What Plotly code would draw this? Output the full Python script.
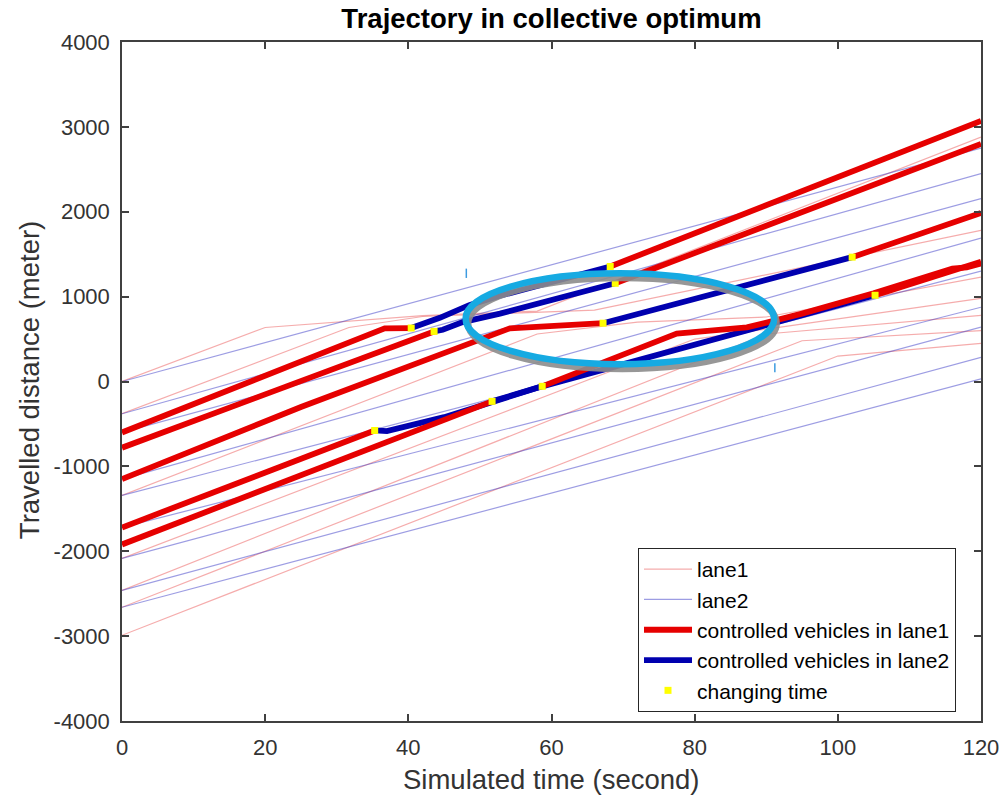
import plotly.graph_objects as go

# ---------------- data (time in s, distance in m) ----------------
# uncontrolled vehicles in lane 1
lane1_t = [
    [0, 20, 42, 58, 120],
    [0, 31.7, 42, 66, 120],
    [0, 58, 72, 90, 120],
    [0, 80, 92, 120],
    [0, 90, 120],
    [0, 95, 120],
    [0, 100, 120],
]
lane1_d = [
    [0, 636, 777, 830, 2880],
    [-380, 636, 766, 840, 1780],
    [-1343, 560, 700, 760, 1230],
    [-2085, 500, 640, 980],
    [-2462, 560, 780],
    [-2660, 480, 600],
    [-2990, 300, 450],
]
# uncontrolled vehicles in lane 2
lane2_t = [
    [0, 120], [0, 120], [0, 120], [0, 120], [0, 120],
    [0, 120], [0, 120], [0, 120], [0, 120],
]
lane2_d = [
    [0, 2750], [-380, 2450], [-600, 2155], [-1150, 1690], [-1343, 1300],
    [-1720, 875], [-2085, 640], [-2462, 285], [-2660, 30],
]
# controlled vehicles
ctrl_t = [
    [0, 36.7, 40.4, 44.4, 48.5, 52.8, 68.2, 120],
    [0, 43.6, 44.8, 47.6, 52.8, 68.9, 120],
    [0, 25, 54.2, 67.2, 102, 120],
    [0, 35.3, 37, 45, 51.7, 58.7, 105.2, 120],
    [0, 36, 51.7, 58.7, 65, 77.5, 87.3, 95, 105, 116, 118, 120],
]
ctrl_d = [
    [-600, 627, 630, 750, 900, 1010, 1355, 3070],
    [-780, 590, 610, 700, 800, 1157, 2800],
    [-1150, -300, 627, 687, 1465, 1985],
    [-1720, -577, -585, -420, -234, -57, 1016, 1410],
    [-1920, -746, -234, -57, 150, 565, 637, 800, 1040, 1330, 1345, 1390],
]
ctrl_change_idx = [[2, 6], [1, 5], [3, 4], [1, 6], [2, 3]]
ctrl_start_lane = [1, 1, 1, 1, 1]

x_ticks = [0, 20, 40, 60, 80, 100, 120]
y_ticks = [-4000, -3000, -2000, -1000, 0, 1000, 2000, 3000, 4000]

# ---------------- styles ----------------
RED_THIN = "rgba(232,70,70,0.45)"
BLUE_THIN = "rgba(60,60,200,0.5)"
RED = "rgb(230,0,0)"
BLUE = "rgb(0,0,175)"
FONT = "Liberation Sans, Arial, sans-serif"

fig = go.Figure()

for i, (t, d) in enumerate(zip(lane1_t, lane1_d)):
    fig.add_trace(go.Scatter(x=t, y=d, mode="lines", line=dict(color=RED_THIN, width=1.2),
                             name="lane1", legendgroup="l1", showlegend=(i == 0), legendrank=1))
for i, (t, d) in enumerate(zip(lane2_t, lane2_d)):
    fig.add_trace(go.Scatter(x=t, y=d, mode="lines", line=dict(color=BLUE_THIN, width=1.2),
                             name="lane2", legendgroup="l2", showlegend=(i == 0), legendrank=2))

shown = {1: False, 2: False}
mk_t, mk_d = [], []
for v in range(len(ctrl_t)):
    t, d = ctrl_t[v], ctrl_d[v]
    bounds = [0] + ctrl_change_idx[v] + [len(t) - 1]
    lane = ctrl_start_lane[v]
    for k in range(len(bounds) - 1):
        a, b = bounds[k], bounds[k + 1] + 1
        fig.add_trace(go.Scatter(
            x=t[a:b], y=d[a:b], mode="lines",
            line=dict(color=RED if lane == 1 else BLUE, width=5.8),
            name="controlled vehicles in lane%d" % lane, legendgroup="c%d" % lane,
            showlegend=not shown[lane], legendrank=2 + lane))
        shown[lane] = True
        lane = 3 - lane
    for i in ctrl_change_idx[v]:
        mk_t.append(t[i])
        mk_d.append(d[i])

fig.add_trace(go.Scatter(x=mk_t, y=mk_d, mode="markers",
                         marker=dict(symbol="square", size=7, color="#ffff00", line=dict(width=0)),
                         name="changing time", legendrank=5))

# highlight ellipse (annotation) with shadow
ELL = dict(x0=48.0, x1=91.1, y0=203, y1=1275)
SHADOW_DX, SHADOW_DY = 0.35, -55
fig.add_shape(type="circle", xref="x", yref="y",
              x0=ELL["x0"] + SHADOW_DX, x1=ELL["x1"] + SHADOW_DX,
              y0=ELL["y0"] + SHADOW_DY, y1=ELL["y1"] + SHADOW_DY,
              line=dict(color="rgba(140,140,140,0.9)", width=6.5), layer="above")
fig.add_shape(type="circle", xref="x", yref="y", **ELL,
              line=dict(color="#16aae2", width=6.5), layer="above")
for (tx, ya, yb) in [(48.1, 1220, 1330), (91.2, 110, 215)]:
    fig.add_shape(type="line", xref="x", yref="y", x0=tx, x1=tx, y0=ya, y1=yb,
                  line=dict(color="#3d9be0", width=1.5), layer="above")

axis_common = dict(showgrid=False, zeroline=False, showline=True, mirror="ticks",
                   linecolor="#404040", linewidth=1.5, ticks="inside", ticklen=7,
                   tickcolor="#404040", tickwidth=1.5, ticklabelstandoff=6,
                   tickfont=dict(family=FONT, size=22, color="#333333"))

fig.update_layout(
    width=1003, height=797,
    margin=dict(l=122, r=22, t=42, b=76, autoexpand=False),
    paper_bgcolor="white", plot_bgcolor="white",
    title=dict(text="<b>Trajectory in collective optimum</b>", x=0.5, xref="paper",
               y=1 - 18 / 797, yref="container", xanchor="center", yanchor="middle",
               font=dict(family=FONT, size=27.5, color="black")),
    xaxis=dict(range=[0, 120], tickmode="array", tickvals=x_ticks,
               ticktext=[str(v) for v in x_ticks], **axis_common),
    yaxis=dict(range=[-4000, 4000], tickmode="array", tickvals=y_ticks,
               ticktext=[str(v) for v in y_ticks], **axis_common),
    legend=dict(x=(638 - 122) / 859, y=(721 - 548) / 679, xanchor="left", yanchor="top",
                bgcolor="white", bordercolor="#262626", borderwidth=1,
                font=dict(family=FONT, size=21, color="black"),
                itemwidth=48, tracegroupgap=0),
    showlegend=True,
    annotations=[
        dict(text="Simulated time (second)", xref="paper", yref="paper", x=0.5,
             y=(721 - 780) / 679, xanchor="center", yanchor="middle", showarrow=False,
             font=dict(family=FONT, size=27.5, color="#333333")),
        dict(text="Travelled distance (meter)", xref="paper", yref="paper",
             x=(29 - 122) / 859, y=0.502, xanchor="center", yanchor="middle",
             textangle=-90, showarrow=False,
             font=dict(family=FONT, size=27.5, color="#333333")),
    ],
)

fig.write_html("out.html", config={"displayModeBar": False},
               post_script="document.body.style.margin='0px';")
